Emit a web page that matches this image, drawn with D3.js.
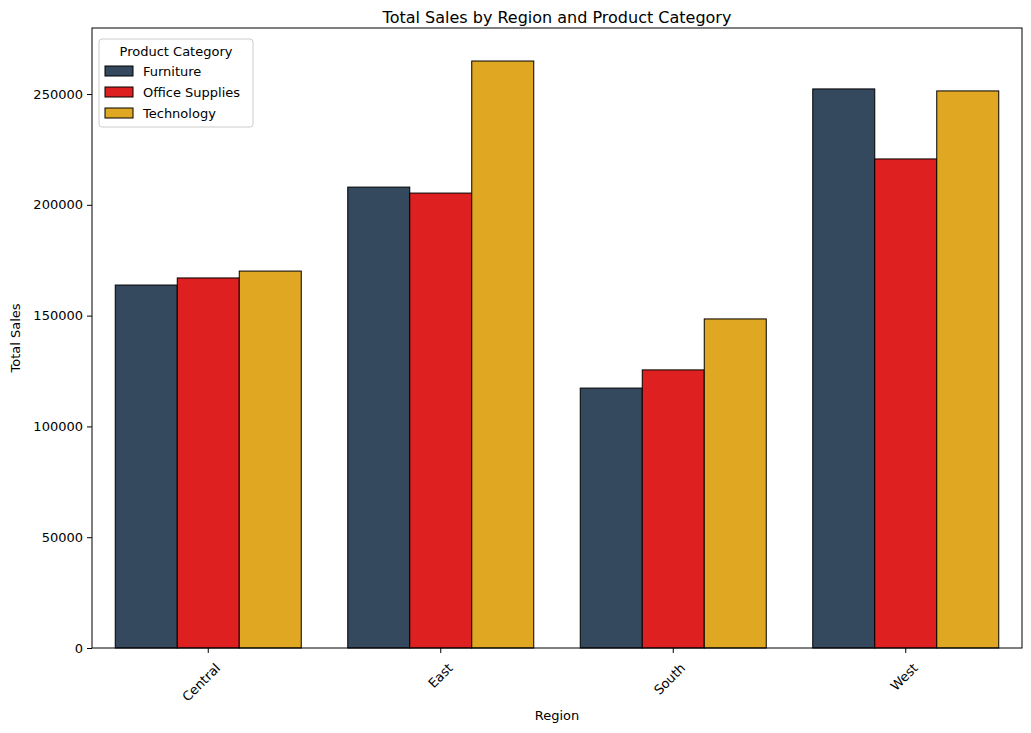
<!DOCTYPE html>
<html>
<head>
<meta charset="utf-8">
<script src="https://cdn.jsdelivr.net/npm/d3@7"></script>
<style>
  body { margin: 0; background: #fff; font-family: "DejaVu Sans", sans-serif; }
  text { fill: #000; }
</style>
</head>
<body>
<svg id="chart" width="1031" height="733"></svg>
<script>
const regions = ["Central", "East", "South", "West"];
const categories = ["Furniture", "Office Supplies", "Technology"];
const furniture = [163800, 208000, 117300, 252300];
const officeSupplies = [167000, 205300, 125500, 220700];
const technology = [170100, 264900, 148500, 251400];
const yTicks = [0, 50000, 100000, 150000, 200000, 250000];
const colors = ["#34495e", "#df2020", "#e0a822"];

const seriesValues = [furniture, officeSupplies, technology];
const m = { left: 92, right: 1022, top: 28, bottom: 648 };
const svg = d3.select("#chart");

const x = d3.scaleBand().domain(regions).range([m.left, m.right]).paddingInner(0.2).paddingOuter(0.1);
const xs = d3.scaleBand().domain(categories).range([0, x.bandwidth()]);
const y = d3.scaleLinear().domain([0, 279800]).range([m.bottom, m.top]);

categories.forEach((c, ci) => {
  svg.append("g").selectAll("rect").data(regions).join("rect")
    .attr("x", r => x(r) + xs(c))
    .attr("y", (r, i) => y(seriesValues[ci][i]))
    .attr("width", xs.bandwidth())
    .attr("height", (r, i) => y(0) - y(seriesValues[ci][i]))
    .attr("fill", colors[ci])
    .attr("stroke", "#000").attr("stroke-width", 1);
});

// frame
svg.append("rect").attr("x", m.left).attr("y", m.top)
  .attr("width", m.right - m.left).attr("height", m.bottom - m.top)
  .attr("fill", "none").attr("stroke", "#000").attr("stroke-width", 1);

const yAxis = svg.append("g").attr("transform", `translate(${m.left},0)`)
  .call(d3.axisLeft(y).tickValues(yTicks).tickFormat(d3.format("d")).tickSize(5).tickPadding(4));
yAxis.select(".domain").remove();
yAxis.selectAll("text").style("font-size", "13px").style("font-family", "DejaVu Sans");

const xAxis = svg.append("g").attr("transform", `translate(0,${m.bottom})`)
  .call(d3.axisBottom(x).tickSize(5));
xAxis.select(".domain").remove();
xAxis.selectAll("text").style("font-size", "13px").style("font-family", "DejaVu Sans")
  .attr("text-anchor", "end").attr("dy", "0.35em")
  .attr("transform", "translate(4,12) rotate(-45)");

svg.append("text").attr("x", (m.left + m.right) / 2).attr("y", 23)
  .attr("text-anchor", "middle").style("font-size", "16px").text("Total Sales by Region and Product Category");
svg.append("text").attr("x", (m.left + m.right) / 2).attr("y", 720)
  .attr("text-anchor", "middle").style("font-size", "13px").text("Region");
svg.append("text").attr("transform", `translate(20,${(m.top + m.bottom) / 2}) rotate(-90)`)
  .attr("text-anchor", "middle").style("font-size", "13px").text("Total Sales");

// legend
const lg = svg.append("g").attr("transform", "translate(99,39)");
lg.append("rect").attr("width", 154).attr("height", 88).attr("rx", 3)
  .attr("fill", "#fff").attr("fill-opacity", 0.8).attr("stroke", "#ccc");
lg.append("text").attr("x", 77).attr("y", 17).attr("text-anchor", "middle")
  .style("font-size", "13px").text("Product Category");
categories.forEach((c, i) => {
  const g = lg.append("g").attr("transform", `translate(6,${27 + i * 21})`);
  g.append("rect").attr("width", 28).attr("height", 10).attr("fill", colors[i]).attr("stroke", "#000");
  g.append("text").attr("x", 38).attr("y", 10).style("font-size", "13px").text(c);
});
</script>
</body>
</html>
